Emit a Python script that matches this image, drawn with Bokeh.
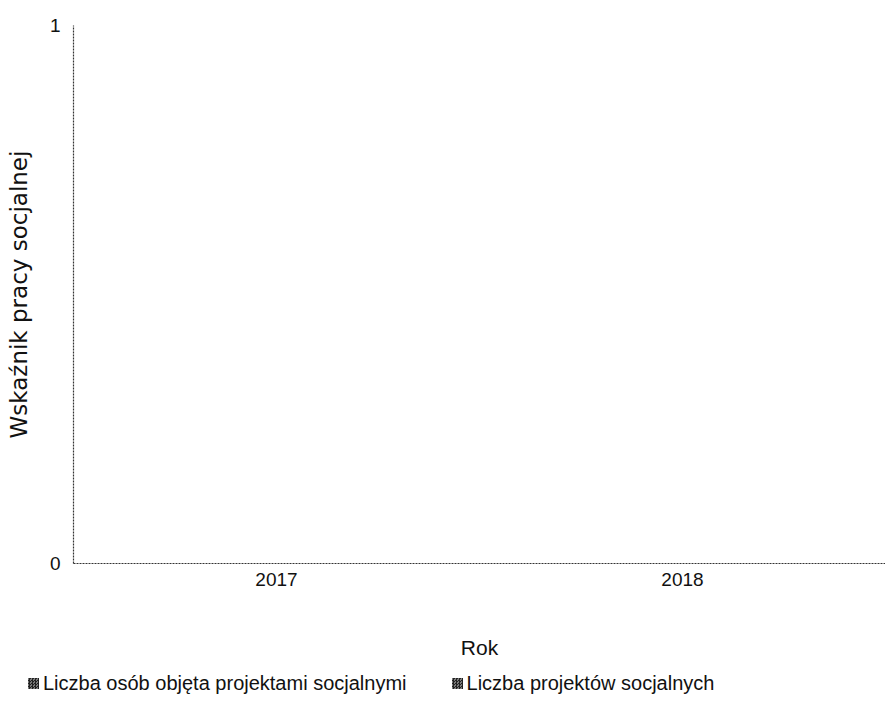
from bokeh.plotting import figure
from bokeh.models import FactorRange, Range1d, FixedTicker, ColumnDataSource, Div
from bokeh.layouts import column
from bokeh.transform import dodge
from bokeh.embed import file_html
from bokeh.resources import INLINE

years = ["2017", "2018"]
series_names = ["Liczba osób objęta projektami socjalnymi", "Liczba projektów socjalnych"]
osoby = [0, 0]
projekty = [0, 0]
y_ticks = [0, 1]

FONT = "Liberation Sans"
BAR_STYLES = [dict(fill_color="#5a5a5a", hatch_color="#1a1a1a"),
              dict(fill_color="#6e6e6e", hatch_color="#111111")]

source = ColumnDataSource(data=dict(years=years, osoby=osoby, projekty=projekty))

p = figure(x_range=FactorRange(*years, range_padding=0), y_range=Range1d(0, 1),
           width=885, height=665, output_backend="svg", toolbar_location=None,
           min_border_left=73, min_border_right=0, min_border_top=25, min_border_bottom=102)
p.outline_line_color = None
p.xgrid.grid_line_color = None
p.ygrid.grid_line_color = None

for col, off, st in (("osoby", -0.12, BAR_STYLES[0]), ("projekty", 0.12, BAR_STYLES[1])):
    p.vbar(x=dodge("years", off, range=p.x_range), top=col, width=0.22, source=source,
           line_color=None, hatch_pattern="criss_cross", hatch_scale=3, hatch_weight=1, **st)

for ax in (p.xaxis[0], p.yaxis[0]):
    ax.axis_line_color = "#333333"
    ax.axis_line_dash = "2 1"
    ax.axis_line_width = 1.2
    ax.major_tick_line_color = None
    ax.minor_tick_line_color = None
    ax.major_label_text_font = FONT
    ax.major_label_text_font_size = "19px"
    ax.major_label_text_color = "#111111"
    ax.axis_label_text_font = FONT
    ax.axis_label_text_font_size = "21px"
    ax.axis_label_text_font_style = "normal"
    ax.axis_label_text_color = "#111111"

p.yaxis.ticker = FixedTicker(ticks=y_ticks)
p.yaxis.axis_label = "Wskaźnik pracy socjalnej"
p.yaxis.axis_label_text_font = "DejaVu Sans"
p.yaxis.axis_label_text_font_size = "23px"
p.yaxis.major_label_standoff = 7
p.yaxis.axis_label_standoff = 15
p.xaxis.axis_label = "Rok"
p.xaxis.major_label_standoff = 3
p.xaxis.axis_label_standoff = 47

# legend strip below the chart
marker_css = ("display:inline-block;width:11px;height:11px;margin-right:4px;"
              "background:repeating-conic-gradient(#222222 0 25%, #7a7a7a 0 50%) 0 0/3px 3px;")
item_html = []
for i, name in enumerate(series_names):
    gap = "margin-left:45px;" if i > 0 else ""
    item_html.append(f'<span style="display:inline-flex;align-items:center;{gap}">'
                     f'<span style="{marker_css}"></span>{name}</span>')
legend_div = Div(width=885, height=42,
                 text=('<div style="display:flex;align-items:center;height:36px;padding-left:28px;'
                       f'font-family:\'{FONT}\';font-size:20px;color:#111111;white-space:nowrap;">'
                       + "".join(item_html) + "</div>"),
                 styles={"margin": "0", "padding": "0"})

layout = column(p, legend_div, spacing=0)
open("out.html", "w").write(file_html(layout, INLINE))
